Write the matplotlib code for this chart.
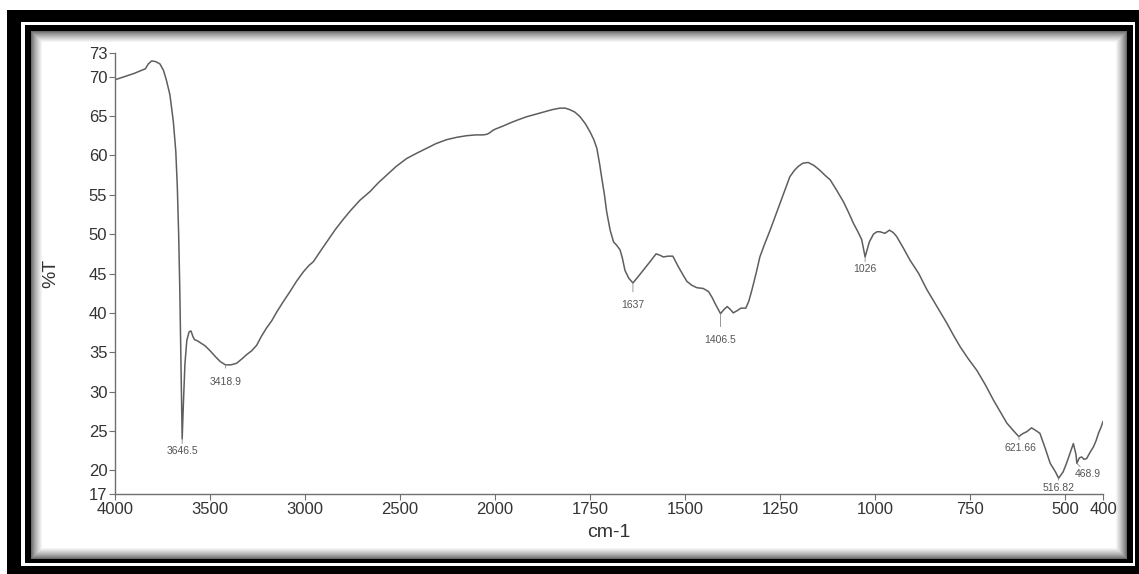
import matplotlib
matplotlib.use("Agg")
import matplotlib.pyplot as plt
import numpy as np
from matplotlib.patches import Rectangle

plt.rcParams['font.family'] = ['Liberation Sans', 'DejaVu Sans']

# FTIR spectrum (wavenumber cm-1, %T)
wavenumber = [4000, 3950, 3900, 3860, 3840, 3825, 3807, 3785, 3763, 3745, 3730, 3711, 3693, 3680,
              3672, 3665, 3659, 3654, 3650, 3646.5, 3640, 3632, 3622, 3610, 3600, 3590, 3582, 3570,
              3550, 3525, 3500, 3470, 3445, 3418.9, 3390, 3360, 3330, 3307, 3280, 3254, 3230, 3202,
              3175, 3149, 3115, 3079, 3045, 3009, 2980, 2956, 2920, 2886, 2840, 2798, 2760, 2711,
              2658, 2615, 2570, 2520, 2465, 2410, 2360, 2310, 2254, 2200, 2149, 2100, 2061, 2040,
              2026, 2010, 1996, 1980, 1961, 1940, 1917, 1895, 1873, 1850, 1829, 1815, 1803, 1790,
              1776, 1762, 1750, 1740, 1732, 1725, 1719, 1712, 1706, 1697, 1688, 1680, 1671, 1665,
              1658, 1648, 1637, 1625, 1610, 1592, 1576, 1565, 1557, 1545, 1532, 1518, 1505, 1495,
              1482, 1469, 1452, 1438, 1428, 1421, 1412, 1406.5, 1398, 1389, 1380, 1373, 1362, 1353,
              1340, 1332, 1324, 1313, 1303, 1290, 1276, 1263, 1250, 1237, 1224, 1212, 1202, 1190,
              1176, 1160, 1145, 1130, 1118, 1100, 1083, 1070, 1057, 1045, 1035, 1026, 1015, 1004,
              995, 987, 974, 962, 952, 943, 925, 908, 885, 864, 838, 811, 794, 776, 755, 732, 710,
              688, 670, 653, 635, 621.66, 610, 601, 588, 578, 566, 552, 539, 525, 516.82, 505, 496,
              486, 478, 471, 468.9, 462, 456, 450, 443, 434, 425, 418, 412, 405, 400]
transmittance = [69.6, 70.0, 70.4, 70.8, 71.0, 71.6, 72.0, 71.9, 71.6, 70.8, 69.6, 67.7, 64.3, 60.5,
                 56.0, 50.0, 43.0, 35.5, 29.5, 24.0, 28.5, 33.5, 36.5, 37.6, 37.7, 37.0, 36.6, 36.5,
                 36.2, 35.8, 35.2, 34.4, 33.8, 33.4, 33.4, 33.6, 34.2, 34.7, 35.2, 35.9, 37.0, 38.1,
                 39.0, 40.1, 41.4, 42.7, 44.0, 45.2, 46.0, 46.5, 47.8, 49.0, 50.6, 51.9, 53.0, 54.3,
                 55.4, 56.5, 57.5, 58.6, 59.6, 60.3, 60.9, 61.5, 62.0, 62.3, 62.5, 62.6, 62.6, 62.7,
                 62.9, 63.2, 63.4, 63.7, 64.1, 64.5, 64.9, 65.2, 65.5, 65.8, 66.0, 66.0, 65.8, 65.5,
                 64.9, 64.0, 63.0, 62.0, 60.9, 59.0, 57.1, 55.0, 52.8, 50.5, 49.0, 48.6, 48.0, 47.0,
                 45.4, 44.4, 43.8, 44.5, 45.4, 46.5, 47.5, 47.3, 47.1, 47.2, 47.2, 45.9, 44.8, 44.0,
                 43.5, 43.2, 43.1, 42.7, 41.9, 41.2, 40.4, 39.9, 40.4, 40.8, 40.4, 40.0, 40.3, 40.6,
                 40.6, 41.5, 42.9, 45.0, 47.1, 48.8, 50.5, 52.2, 53.9, 55.6, 57.3, 58.1, 58.6, 59.0,
                 59.1, 58.7, 58.1, 57.4, 56.9, 55.5, 54.1, 52.8, 51.4, 50.3, 49.3, 47.1, 49.0, 50.0,
                 50.3, 50.3, 50.1, 50.5, 50.2, 49.7, 48.2, 46.7, 45.0, 43.0, 40.9, 38.7, 37.2, 35.7,
                 34.2, 32.7, 30.9, 28.9, 27.4, 26.0, 25.0, 24.3, 24.7, 24.9, 25.4, 25.1, 24.7, 22.8,
                 20.9, 19.8, 19.0, 19.8, 20.9, 22.3, 23.4, 22.0, 20.9, 21.6, 21.7, 21.4, 21.5, 22.3,
                 23.0, 23.8, 24.7, 25.5, 26.2]

peak_wn = [3646.5, 3418.9, 1637, 1406.5, 1026, 621.66, 516.82, 468.9]
peak_labels = ["3646.5", "3418.9", "1637", "1406.5", "1026", "621.66", "516.82", "468.9"]
# label offsets from the minimum, in points
peak_offsets = [(0, -9), (0, -12), (0, -16), (0, -19), (0, -9), (1, -8), (0, -7), (8, -8)]

x_ticks = [4000, 3500, 3000, 2500, 2000, 1750, 1500, 1250, 1000, 750, 500, 400]
y_ticks = [17, 20, 25, 30, 35, 40, 45, 50, 55, 60, 65, 70, 73]

W, H = 1139, 574
fig = plt.figure(figsize=(W / 100, H / 100), dpi=100, facecolor='white')


def px_rect(x0, y0, x1, y1, color, z):
    fig.patches.append(Rectangle((x0 / W, 1 - y1 / H), (x1 - x0) / W, (y1 - y0) / H,
                                 transform=fig.transFigure, facecolor=color,
                                 edgecolor='none', zorder=z))


# picture frame: thick black, thin white line, black line, soft inner shadow
px_rect(7, 10, W, H, 'black', -20)
px_rect(21, 22, 1135, 566, 'white', -19)
px_rect(25, 25, 1133, 563, 'black', -18)
steps = 12
for i in range(steps):
    g = 0.3 + 0.7 * ((i + 1) / steps) ** 0.7
    px_rect(31 + i, 31 + i, 1127 - i, 559 - i, (g, g, g), -17 + i * 0.1)
px_rect(31 + steps, 31 + steps, 1127 - steps, 559 - steps, 'white', -15)

ax = fig.add_axes([115 / W, 1 - 494 / H, (1103 - 115) / W, (494 - 53) / H])
ax.set_facecolor('none')


def fwd(x):
    x = np.asarray(x, dtype=float)
    return np.where(x > 2000, 2000 + (x - 2000) / 2, x)


def inv(y):
    y = np.asarray(y, dtype=float)
    return np.where(y > 2000, 2000 + (y - 2000) * 2, y)


ax.set_xscale('function', functions=(fwd, inv))
line_c = '#5e5e5e'
ax.plot(wavenumber, transmittance, color=line_c, lw=1.1)
ax.set_xlim(4000, 400)
ax.set_ylim(17, 73)
ax.set_xticks(x_ticks)
ax.set_xticklabels([str(t) for t in x_ticks])
ax.set_yticks(y_ticks)
ax.set_yticklabels([str(t) for t in y_ticks])
ax.xaxis.set_minor_locator(matplotlib.ticker.NullLocator())

for s in ['top', 'right']:
    ax.spines[s].set_visible(False)
for s in ['left', 'bottom']:
    ax.spines[s].set_color('#707070')
    ax.spines[s].set_linewidth(1.0)
ax.tick_params(direction='out', length=4, width=0.8, color='#707070',
               labelsize=12, labelcolor='#333333', pad=1.5)

ax.set_xlabel('cm-1', fontsize=14, color='#333333', labelpad=5)
ax.set_ylabel('%T', fontsize=14, color='#333333', labelpad=21)

for wn, lab, (dx, dy) in zip(peak_wn, peak_labels, peak_offsets):
    yv = np.interp(wn, wavenumber[::-1], transmittance[::-1])
    ax.annotate(lab, xy=(wn, yv), xytext=(dx, dy), textcoords='offset points',
                ha='center', va='center', fontsize=7.5, color='#555555',
                arrowprops=dict(arrowstyle='-', color='#888888', lw=0.6,
                                shrinkA=4, shrinkB=0))

fig.savefig('out.png', dpi=100, facecolor='white')
